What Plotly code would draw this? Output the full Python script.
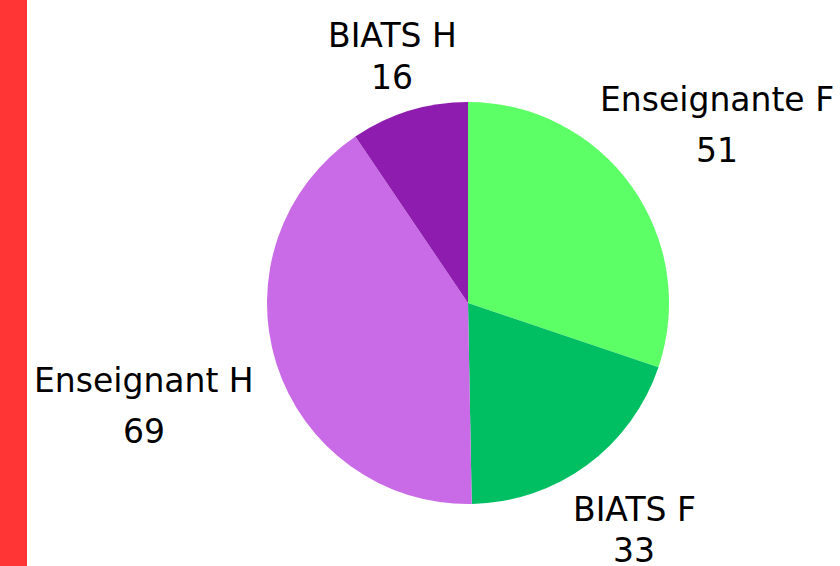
import math
import plotly.graph_objects as go

labels = ["Enseignante F", "BIATS F", "Enseignant H", "BIATS H"]
values = [51, 33, 69, 16]
colors = ["#5CFF66", "#00BF63", "#C96BE6", "#8E1CAE"]

# label layout (distance of the label block from the pie centre, line gap), px
label_dist = [306, 281, 340, 258]
label_gap = [51, 41, 51, 42]

W, H = 840, 566
cx, cy, r = 468, 303, 201
FONT = "DejaVu Sans"
FS = 33

fig = go.Figure(go.Pie(
    labels=labels,
    values=values,
    sort=False,
    direction="clockwise",
    rotation=0,
    marker=dict(colors=colors, line=dict(color="white", width=0)),
    textinfo="none",
    hoverinfo="label+value",
    showlegend=False,
    domain=dict(x=[(cx - r) / W, (cx + r) / W], y=[(H - cy - r) / H, (H - cy + r) / H]),
))

total = sum(values)
cum = 0
for lab, val, d, g in zip(labels, values, label_dist, label_gap):
    mid = (cum + val / 2) / total * 2 * math.pi
    cum += val
    bx = cx + d * math.sin(mid)
    by = cy - d * math.cos(mid)
    for txt, yy in ((lab, by - g / 2), (str(val), by + g / 2)):
        fig.add_annotation(
            x=bx / W, y=1 - yy / H, xref="paper", yref="paper",
            text=txt, showarrow=False, xanchor="center", yanchor="middle",
            font=dict(family=FONT, size=FS, color="black"),
        )

fig.add_shape(type="rect", xref="paper", yref="paper", x0=0, x1=27 / W, y0=0, y1=1,
              fillcolor="#FF3535", line=dict(width=0), layer="below")

fig.update_layout(
    width=W, height=H,
    margin=dict(l=0, r=0, t=0, b=0, autoexpand=False),
    paper_bgcolor="white", plot_bgcolor="white",
    font=dict(family=FONT),
)

fig.write_html("out.html", config={"displayModeBar": False},
               post_script="document.body.style.margin='0px';")
